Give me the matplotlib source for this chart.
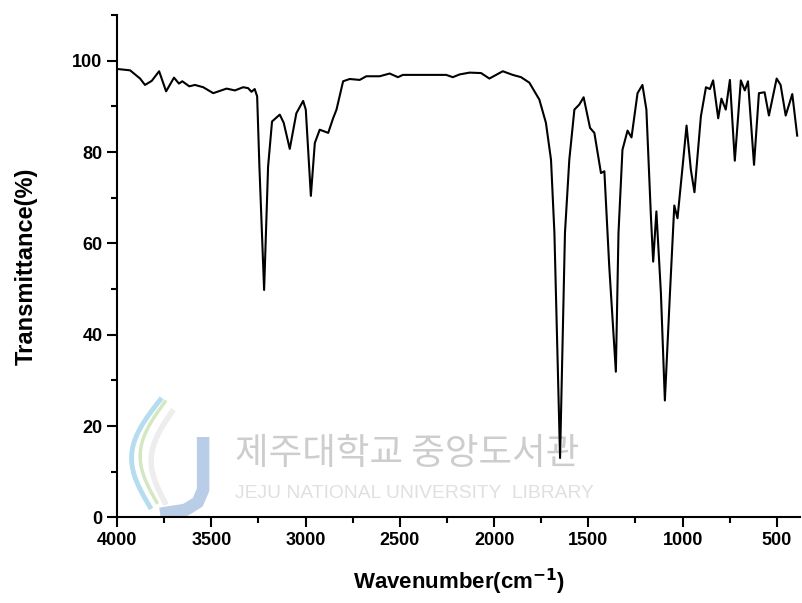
import numpy as np
import matplotlib.pyplot as plt
from matplotlib.ticker import MultipleLocator

# IR spectrum (wavenumber in cm-1, transmittance in %)
wavenumber = [4000, 3931, 3878, 3852, 3816, 3777, 3740, 3698, 3672, 3654,
              3617, 3587, 3543, 3490, 3419, 3375, 3331, 3305, 3287, 3270,
              3257, 3245, 3220, 3199, 3178, 3137, 3116, 3084, 3049, 3013,
              2999, 2972, 2951, 2925, 2880, 2854, 2836, 2801, 2766, 2713,
              2678, 2607, 2554, 2510, 2484, 2289, 2254, 2219, 2183, 2130,
              2069, 2025, 1954, 1901, 1857, 1813, 1760, 1725, 1698, 1680,
              1650, 1624, 1601, 1574, 1548, 1525, 1491, 1468, 1433, 1415,
              1389, 1354, 1340, 1319, 1292, 1271, 1239, 1213, 1192, 1168,
              1156, 1139, 1115, 1094, 1067, 1044, 1027, 1000, 979, 956,
              937, 903, 876, 855, 838, 811, 794, 771, 749, 723,
              691, 670, 653, 621, 595, 565, 542, 501, 480, 453,
              418, 392]
transmittance = [98.2, 97.9, 96.1, 94.7, 95.6, 97.7, 93.3, 96.3, 95.0, 95.5,
                 94.4, 94.7, 94.2, 92.9, 93.9, 93.5, 94.2, 94.0, 93.2, 93.8,
                 92.2, 76.8, 49.8, 76.8, 86.7, 88.2, 86.4, 80.7, 88.5, 91.2,
                 89.3, 70.4, 82.0, 84.9, 84.2, 87.4, 89.3, 95.5, 96.0, 95.8,
                 96.6, 96.6, 97.2, 96.4, 96.9, 96.9, 96.9, 96.4, 97.0, 97.4,
                 97.3, 96.1, 97.7, 96.9, 96.4, 95.2, 91.5, 86.4, 78.3, 62.3,
                 13.0, 62.3, 78.3, 89.3, 90.4, 92.0, 85.3, 84.2, 75.4, 75.8,
                 54.9, 31.9, 62.3, 80.5, 84.7, 83.2, 92.9, 94.7, 89.3, 65.9,
                 56.0, 67.0, 49.1, 25.6, 49.1, 68.3, 65.5, 76.8, 85.8, 76.1,
                 71.2, 87.8, 94.2, 93.8, 95.7, 87.4, 91.7, 89.3, 95.8, 78.1,
                 95.7, 93.5, 95.5, 77.2, 92.9, 93.1, 88.0, 96.1, 94.7, 88.0,
                 92.7, 83.6]

plt.rcParams['font.family'] = ['Liberation Sans', 'DejaVu Sans']

fig = plt.figure(figsize=(8.02, 6.03), dpi=100)
ax = fig.add_axes([0.146, 0.142, 0.852, 0.833])

# faint library watermark behind the data
ax.text(0.173, 0.126, '제주대학교 중앙도서관', transform=ax.transAxes,
        fontsize=26.3, color='#cdcdcd', family=['Noto Sans CJK KR'],
        va='center', ha='left', zorder=0)
ax.text(0.173, 0.047, 'JEJU NATIONAL UNIVERSITY  LIBRARY', transform=ax.transAxes,
        fontsize=13.9, color='#e0e0e0', va='center', ha='left', zorder=0)
# rough logo: a pale blue J and swooshes
ax.plot([0.1259, 0.1259, 0.118, 0.1, 0.063], [0.16, 0.055, 0.03, 0.015, 0.007],
        transform=ax.transAxes, color='#b9cde6', lw=9, solid_capstyle='butt', zorder=0)
t = np.linspace(0, 1, 40)
ax.plot(0.048 + 0.015 * t - 0.034 * np.sin(np.pi * t), 0.021 + 0.213 * t,
        transform=ax.transAxes, color='#b5dcef', lw=3.5, zorder=0)
ax.plot(0.058 + 0.012 * t - 0.03 * np.sin(np.pi * t), 0.03 + 0.2 * t,
        transform=ax.transAxes, color='#d3e8c0', lw=2.5, zorder=0)
ax.plot(0.07 + 0.01 * t - 0.025 * np.sin(np.pi * t), 0.03 + 0.18 * t,
        transform=ax.transAxes, color='#ededed', lw=4, zorder=0)

ax.plot(wavenumber, transmittance, color='black', lw=1.5, zorder=2)

ax.set_xlim(4000, 375)
ax.set_ylim(0, 110)
ax.xaxis.set_major_locator(MultipleLocator(500))
ax.xaxis.set_minor_locator(MultipleLocator(250))
ax.yaxis.set_minor_locator(MultipleLocator(10))
ax.set_yticks([0, 20, 40, 60, 80, 100])

for s in ['top', 'right']:
    ax.spines[s].set_visible(False)
for s in ['left', 'bottom']:
    ax.spines[s].set_linewidth(1.5)

ax.tick_params(which='major', direction='out', length=7, width=1.5,
               labelsize=13)
ax.tick_params(which='minor', direction='out', length=4.5, width=1.5)
for lab in ax.get_xticklabels() + ax.get_yticklabels():
    lab.set_fontweight('bold')

ax.set_xlabel('Wavenumber(cm$^{\\mathbf{-1}}$)', fontsize=16, fontweight='bold',
              labelpad=13)
ax.set_ylabel('Transmittance(%)', fontsize=17, fontweight='bold', labelpad=25)

fig.savefig('out.png', dpi=100)
